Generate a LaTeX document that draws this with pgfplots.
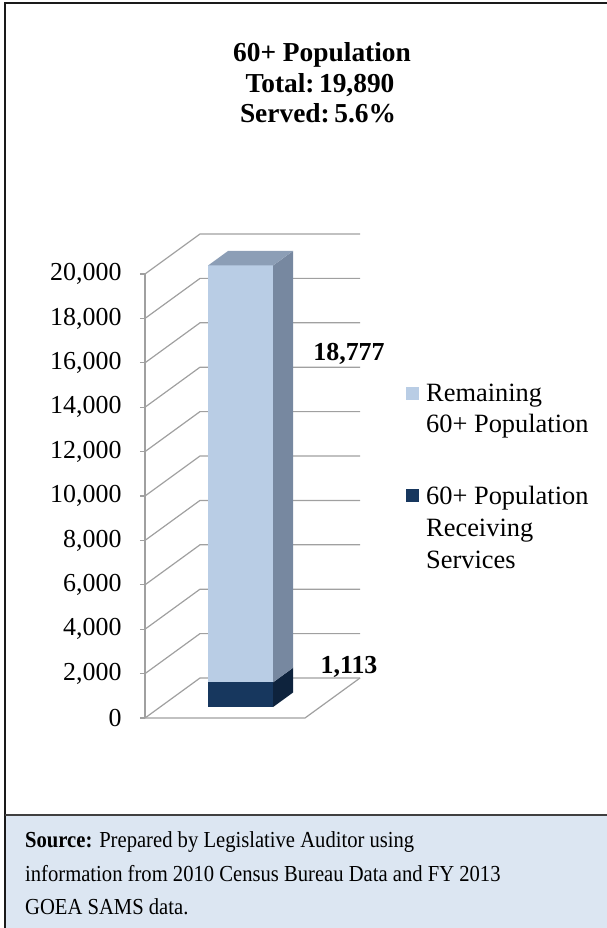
\documentclass[border=0pt]{standalone}
\usepackage{pgfplots}
\pgfplotsset{compat=1.18}
\usepackage{fontspec}
\setmainfont{Liberation Serif}
\newfontfamily\srcfont[FakeStretch=0.9]{Liberation Serif}
\definecolor{lightfront}{HTML}{B9CDE5}
\definecolor{lighttop}{HTML}{8C9EB6}
\definecolor{lightside}{HTML}{7788A0}
\definecolor{darkfront}{HTML}{17375E}
\definecolor{darkside}{HTML}{0E233D}
\definecolor{gridgray}{HTML}{A0A0A0}
\definecolor{srcfill}{HTML}{DCE6F2}
\definecolor{framecol}{HTML}{1A1A1A}
\definecolor{sepcol}{HTML}{404040}
\begin{document}
\begin{tikzpicture}
\begin{axis}[
  scale only axis, width=215bp, height=444bp,
  xmin=145, xmax=360, ymin=0, ymax=20000,
  enlargelimits=false, clip=false,
  axis x line=none, axis y line*=left,
  y axis line style={draw=gridgray, line width=1.2bp},
  ytick={0,2000,4000,6000,8000,10000,12000,14000,16000,18000,20000},
  tick align=outside, major tick length=5bp,
  ytick style={draw=gridgray, line width=1.2bp},
  scaled y ticks=false,
  /pgf/number format/assume math mode=true,
  yticklabel style={font=\fontsize{26}{26}\selectfont, xshift=-15bp, /pgf/number format/1000 sep={,}},
]
% back wall and floor lines
\pgfplotsinvokeforeach{0,2000,4000,6000,8000,10000,12000,14000,16000,18000,20000}{
  \draw[gridgray, line width=1.2bp] (axis cs:145,#1) -- ++(55bp,40bp) -- ++(160bp,0bp);
}
\draw[gridgray, line width=1.2bp] (axis cs:145,0) -- (axis cs:305,0) -- ++(55bp,40bp);
% bar: dark segment (60+ receiving services) 0 .. 1113
\addplot[fill=darkfront, draw=none] table[x expr=\thisrow{x}+55*\thisrow{d}, y expr=\thisrow{y}+1802*\thisrow{d}] {
x y d
193 0 0.275
258 0 0.275
258 1113 0.275
193 1113 0.275
};
\addplot[fill=darkside, draw=none] table[x expr=\thisrow{x}+55*\thisrow{d}, y expr=\thisrow{y}+1802*\thisrow{d}] {
x y d
258 0 0.275
258 0 0.64
258 1113 0.64
258 1113 0.275
};
% light segment (remaining) 1113 .. 19890 (= 1113 + 18777)
\addplot[fill=lightfront, draw=none] table[x expr=\thisrow{x}+55*\thisrow{d}, y expr=\thisrow{y}+1802*\thisrow{d}] {
x y d
193 1113 0.275
258 1113 0.275
258 19890 0.275
193 19890 0.275
};
\addplot[fill=lightside, draw=none] table[x expr=\thisrow{x}+55*\thisrow{d}, y expr=\thisrow{y}+1802*\thisrow{d}] {
x y d
258 1113 0.275
258 1113 0.64
258 19890 0.64
258 19890 0.275
};
\addplot[fill=lighttop, draw=none] table[x expr=\thisrow{x}+55*\thisrow{d}, y expr=\thisrow{y}+1802*\thisrow{d}] {
x y d
193 19890 0.275
258 19890 0.275
258 19890 0.64
193 19890 0.64
};
\coordinate (O) at (axis cs:145,0);
\end{axis}
\begin{scope}[shift={(O)}, xshift=-145bp, yshift=718bp, x=1bp, y=-1bp]
  \begin{scope}
    \clip (0,0) rectangle (607,928);
    \fill[srcfill] (5,815) rectangle (620,940);
    \draw[framecol, line width=2bp] (5,3) rectangle (620,940);
    \draw[sepcol, line width=2bp] (5,815) -- (620,815);
  \end{scope}
  % title
  \node[anchor=base, font=\bfseries\fontsize{27.5}{27.5}\selectfont, inner sep=0pt] at (322,62) {60+ Population};
  \node[anchor=base, font=\bfseries\fontsize{27.5}{27.5}\selectfont, inner sep=0pt] at (320,93) {Total:\,19,890};
  \node[anchor=base, font=\bfseries\fontsize{27.5}{27.5}\selectfont, inner sep=0pt] at (318,123) {Served:\,5.6\%};
  % data labels
  \node[anchor=base, font=\bfseries\fontsize{26}{26}\selectfont, inner sep=0pt] at (349,361) {18,777};
  \node[anchor=base, font=\bfseries\fontsize{26}{26}\selectfont, inner sep=0pt] at (349,673) {1,113};
  % legend
  \fill[lightfront] (406,387) rectangle (419,400);
  \node[anchor=base west, font=\fontsize{26.5}{26.5}\selectfont, inner sep=0pt] at (426,402) {Remaining};
  \node[anchor=base west, font=\fontsize{26.5}{26.5}\selectfont, inner sep=0pt] at (426,433) {60+ Population};
  \fill[darkfront] (406,489) rectangle (419,502);
  \node[anchor=base west, font=\fontsize{26.5}{26.5}\selectfont, inner sep=0pt] at (426,505) {60+ Population};
  \node[anchor=base west, font=\fontsize{26.5}{26.5}\selectfont, inner sep=0pt] at (426,537) {Receiving};
  \node[anchor=base west, font=\fontsize{26.5}{26.5}\selectfont, inner sep=0pt] at (426,569) {Services};
  % source
  \node[anchor=base west, font=\srcfont\fontsize{23}{23}\selectfont, inner sep=0pt] at (25,847) {\textbf{Source:} Prepared by Legislative Auditor using};
  \node[anchor=base west, font=\srcfont\fontsize{23}{23}\selectfont, inner sep=0pt] at (25,881) {information from 2010 Census Bureau Data and FY 2013};
  \node[anchor=base west, font=\srcfont\fontsize{23}{23}\selectfont, inner sep=0pt] at (25,914) {GOEA SAMS data.};
  \pgfresetboundingbox
  \useasboundingbox (0,0) rectangle (607,928);
\end{scope}
\end{tikzpicture}
\end{document}
